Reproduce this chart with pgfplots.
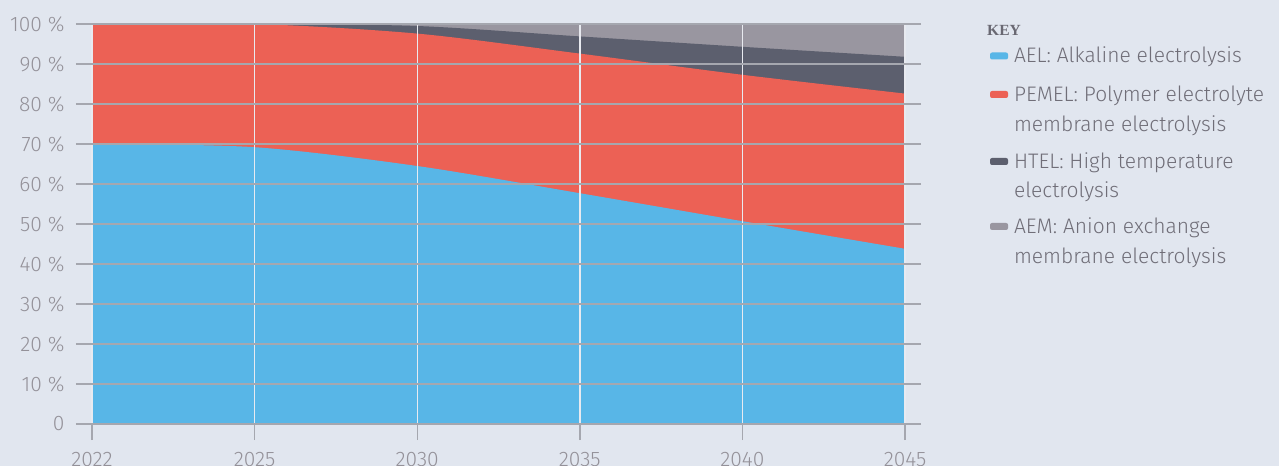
\documentclass[border=0pt]{standalone}
\usepackage{fontspec}
\setmainfont{Fira Sans}[UprightFont={* Light}]
\newfontfamily\keyfont{Liberation Serif}
\usepackage{pgfplots}
\pgfplotsset{compat=1.18}

\definecolor{bgc}{RGB}{225,230,239}
\definecolor{aelc}{RGB}{88,182,231}
\definecolor{pemc}{RGB}{236,97,85}
\definecolor{htec}{RGB}{92,95,110}
\definecolor{aemc}{RGB}{153,150,160}
\definecolor{hgrid}{RGB}{165,167,175}
\definecolor{vgrid}{RGB}{232,234,240}
\definecolor{tickc}{RGB}{148,145,153}
\definecolor{legc}{RGB}{112,110,120}
\definecolor{keyc}{RGB}{105,104,114}

% row heights of the key (distance from the row above)
\newcommand\rh[1]{\rule{0pt}{#1bp}}

\begin{document}
\begin{tikzpicture}[font=\fontsize{21bp}{30bp}\selectfont]
\fill[bgc] (0,0) rectangle (1279bp,466bp);
\begin{axis}[
    at={(92bp,42bp)}, anchor=south west,
    scale only axis, width=813bp, height=400bp,
    xmin=0, xmax=5, ymin=0, ymax=100,
    xtick={0,...,5},
    xticklabels={2022,2025,2030,2035,2040,2045},
    ytick={0,10,...,100},
    yticklabels={0,10\ \%,20\ \%,30\ \%,40\ \%,50\ \%,60\ \%,70\ \%,80\ \%,90\ \%,100\ \%},
    xtick pos=bottom, ytick pos=both,
    tick align=outside, major tick length=16bp,
    tick style={hgrid, line width=1.4bp},
    axis line style={draw=none},
    grid=major,
    major x grid style={vgrid, line width=1.4bp},
    major y grid style={hgrid, line width=1.4bp},
    axis on top,
    tick label style={text=tickc},
    yticklabel style={xshift=-8bp},
    xticklabel style={yshift=-9bp},
    legend image code/.code={
        \fill[#1, draw=none, rounded corners=2bp] (0bp,3.5bp) rectangle (18bp,10.5bp);
    },
    legend style={at={(1.1046,0.955)}, anchor=north west,
        draw=none, fill=none, inner sep=0pt, outer sep=0pt,
        row sep=0pt, column sep=6bp,
        nodes={inner sep=0pt, text=legc},
        cells={anchor=base west}},
]
\addlegendimage{fill=aelc}
\addlegendentry{\rh{21}AEL: Alkaline electrolysis}
\addlegendimage{fill=pemc}
\addlegendentry{\rh{37}PEMEL: Polymer electrolyte}
\addlegendimage{empty legend}
\addlegendentry{\rh{29}membrane electrolysis}
\addlegendimage{fill=htec}
\addlegendentry{\rh{35}HTEL: High temperature}
\addlegendimage{empty legend}
\addlegendentry{\rh{28}electrolysis}
\addlegendimage{fill=aemc}
\addlegendentry{\rh{34}AEM: Anion exchange}
\addlegendimage{empty legend}
\addlegendentry{\rh{29}membrane electrolysis}

% cumulative upper edges, painted from the top layer down
\addplot[forget plot, fill=aemc, draw=none, smooth] coordinates {
    (0,100) (1,100) (2,100) (3,100) (4,100) (5,100)} \closedcycle;
\addplot[forget plot, fill=htec, draw=none, smooth] coordinates {
    (0,100) (1,100) (2,99.5) (3,96.9) (4,94.3) (5,91.8)} \closedcycle;
\addplot[forget plot, fill=pemc, draw=none, smooth] coordinates {
    (0,100) (1,100) (2,97.6) (3,92.6) (4,87.3) (5,82.6)} \closedcycle;
\addplot[forget plot, fill=aelc, draw=none, smooth] coordinates {
    (0,70) (1,69.2) (2,64.5) (3,57.7) (4,50.7) (5,43.8)} \closedcycle;
\end{axis}
\node[anchor=base west, text=keyc, inner sep=0pt,
      font=\keyfont\bfseries\fontsize{15.5bp}{18bp}\selectfont] at (987bp,430bp) {KEY};
\pgfresetboundingbox
\useasboundingbox (0,0) rectangle (1279bp,466bp);
\end{tikzpicture}
\end{document}
